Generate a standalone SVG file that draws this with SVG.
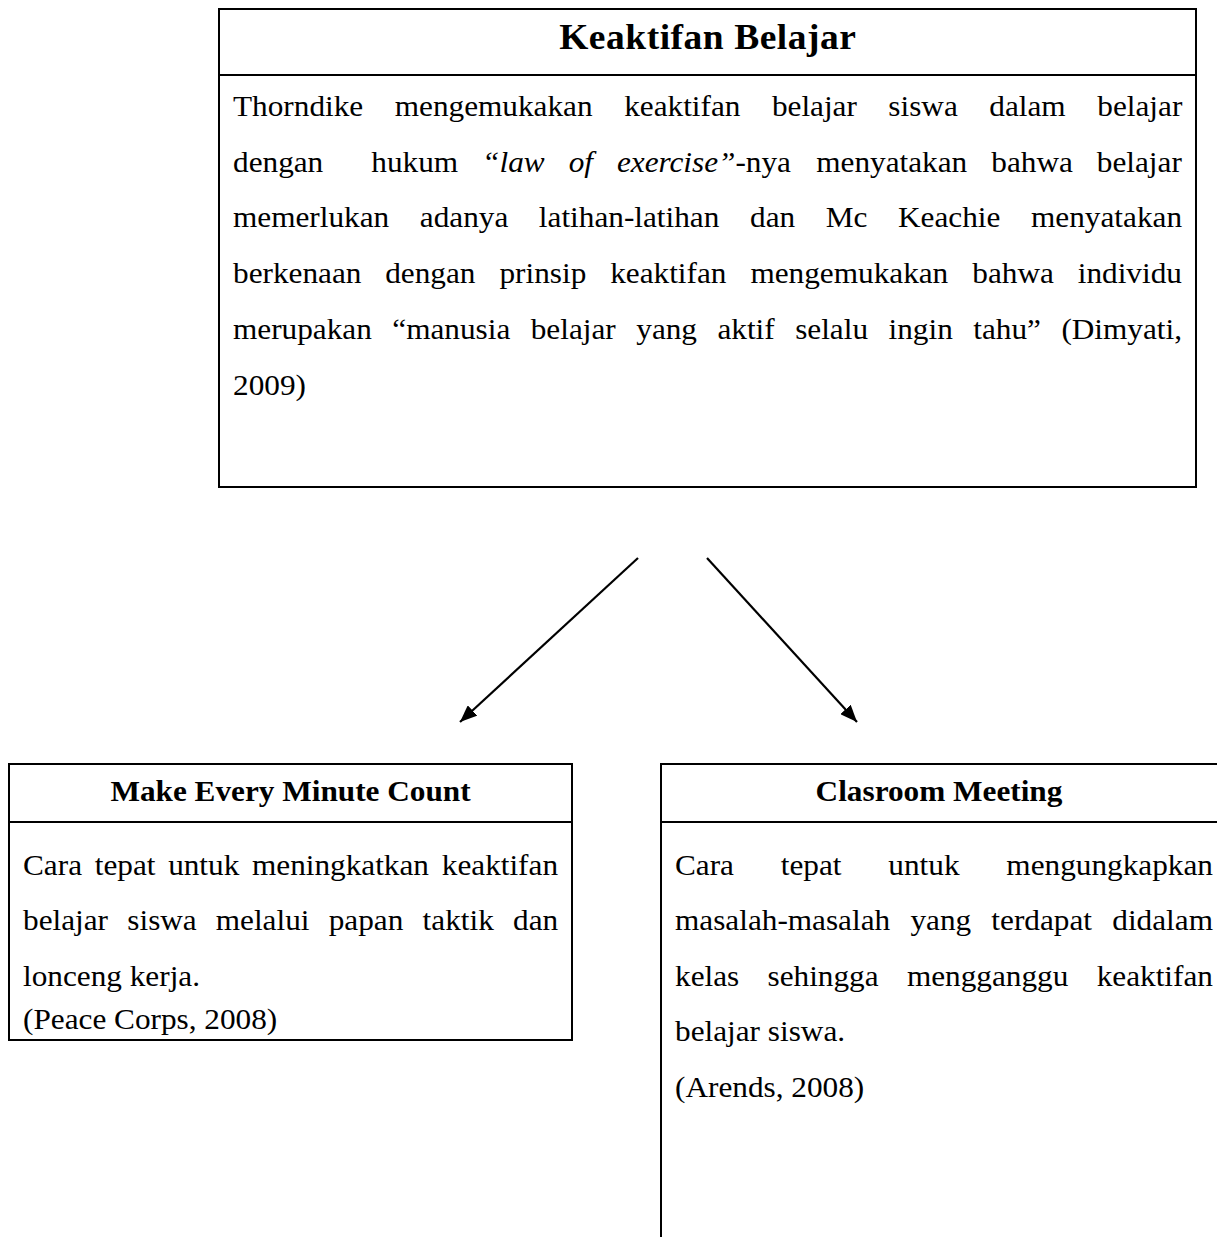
<svg xmlns="http://www.w3.org/2000/svg" width="1217" height="1237" viewBox="0 0 1217 1237">
<style>
.box{fill:none;stroke:#000;stroke-width:2}
.t{font-family:"Liberation Serif","Times New Roman",serif;font-size:30px;fill:#000}
.b{font-weight:bold;text-anchor:middle}
.h{font-size:36px;letter-spacing:0.5px}
.i{font-style:italic}
.con{stroke:#000;stroke-width:2.2;fill:none;marker-end:url(#ah)}
</style>
<defs>
<marker id="ah" markerUnits="userSpaceOnUse" markerWidth="18" markerHeight="14" refX="17" refY="7" orient="auto">
<path d="M0,0 L17,7 L0,14 z" fill="#000"/>
</marker>
</defs>
<rect width="1217" height="1237" fill="#fff"/>
<g id="node-keaktifan">
<rect class="box" x="219" y="9" width="977" height="478"/>
<line class="box" x1="219" y1="75" x2="1196" y2="75"/>
<g class="t" transform="scale(1.0417 1)">
<text class="b h" x="679.5" y="49">Keaktifan Belajar</text>
<text y="116"><tspan x="223.7">Thorndike</tspan><tspan x="379">mengemukakan</tspan><tspan x="599.2">keaktifan</tspan><tspan x="741">belajar</tspan><tspan x="852.8">siswa</tspan><tspan x="949.7">dalam</tspan><tspan x="1053.4">belajar</tspan></text>
<text y="172"><tspan x="223.7">dengan</tspan><tspan x="356.4">hukum</tspan><tspan x="462.8" class="i">“law</tspan><tspan x="545.9" class="i">of</tspan><tspan x="592.2" class="i">exercise”</tspan><tspan>-nya</tspan><tspan x="783.6">menyatakan</tspan><tspan x="951.6">bahwa</tspan><tspan x="1052.9">belajar</tspan></text>
<text y="227"><tspan x="223.7">memerlukan</tspan><tspan x="403">adanya</tspan><tspan x="517.3">latihan-latihan</tspan><tspan x="720">dan</tspan><tspan x="792.7">Mc</tspan><tspan x="862.1">Keachie</tspan><tspan x="989.8">menyatakan</tspan></text>
<text y="283"><tspan x="223.7">berkenaan</tspan><tspan x="369.8">dengan</tspan><tspan x="479.5">prinsip</tspan><tspan x="585.8">keaktifan</tspan><tspan x="720.4">mengemukakan</tspan><tspan x="933.4">bahwa</tspan><tspan x="1034.6">individu</tspan></text>
<text y="339"><tspan x="223.7">merupakan</tspan><tspan x="376.6">“manusia</tspan><tspan x="509.5">belajar</tspan><tspan x="610.8">yang</tspan><tspan x="688.7">aktif</tspan><tspan x="763.3">selalu</tspan><tspan x="853">ingin</tspan><tspan x="934.3">tahu”</tspan><tspan x="1018.9">(Dimyati,</tspan></text>
<text x="223.7" y="395">2009)</text>
</g>
</g>
<g id="node-make-every-minute-count">
<rect class="box" x="9" y="764" width="563" height="276"/>
<line class="box" x1="9" y1="822" x2="572" y2="822"/>
<g class="t" transform="scale(1.0417 1)">
<text class="b" x="278.9" y="801">Make Every Minute Count</text>
<text y="875"><tspan x="22.1">Cara</tspan><tspan x="91">tepat</tspan><tspan x="161.4">untuk</tspan><tspan x="241.9">meningkatkan</tspan><tspan x="424.1">keaktifan</tspan></text>
<text y="930"><tspan x="22.1">belajar</tspan><tspan x="122.2">siswa</tspan><tspan x="207.1">melalui</tspan><tspan x="315.6">papan</tspan><tspan x="405.7">taktik</tspan><tspan x="492.5">dan</tspan></text>
<text x="22.1" y="986">lonceng kerja.</text>
<text x="22.1" y="1029">(Peace Corps, 2008)</text>
</g>
</g>
<g id="node-clasroom-meeting">
<path class="box" d="M1218,764 H661 V1238"/>
<line class="box" x1="661" y1="822" x2="1218" y2="822"/>
<g class="t" transform="scale(1.0417 1)">
<text class="b" x="901.4" y="801">Clasroom Meeting</text>
<text y="875"><tspan x="648">Cara</tspan><tspan x="749.5">tepat</tspan><tspan x="852.8">untuk</tspan><tspan x="966.1">mengungkapkan</tspan></text>
<text y="930"><tspan x="648">masalah-masalah</tspan><tspan x="874">yang</tspan><tspan x="951.7">terdapat</tspan><tspan x="1067.8">didalam</tspan></text>
<text y="986"><tspan x="648">kelas</tspan><tspan x="736.8">sehingga</tspan><tspan x="870.6">mengganggu</tspan><tspan x="1052.8">keaktifan</tspan></text>
<text x="648" y="1041">belajar siswa.</text>
<text x="648" y="1097">(Arends, 2008)</text>
</g>
</g>
<g id="connectors">
<line class="con" x1="638" y1="558" x2="460" y2="722"/>
<line class="con" x1="707" y1="558" x2="857" y2="722"/>
</g>
</svg>
